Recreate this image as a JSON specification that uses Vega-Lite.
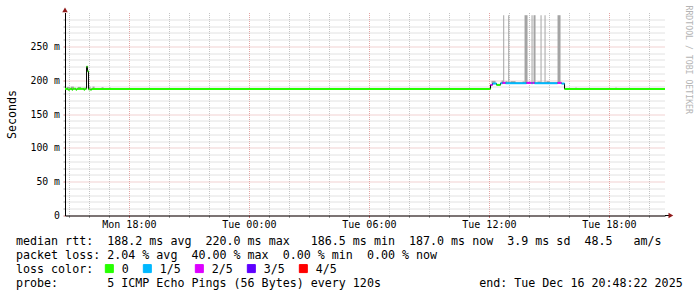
{
  "$schema": "https://vega.github.io/schema/vega-lite/v6.json",
  "width": 600,
  "height": 203,
  "autosize": {"type": "none"},
  "padding": {"left": 65, "top": 12.5, "right": 32, "bottom": 81.5},
  "background": "white",
  "config": {"view": {"stroke": null}, "font": "DejaVu Sans Mono"},
  "title": {
    "text": [
      "median rtt:\u00a0\u00a0188.2 ms avg\u00a0\u00a0220.0 ms max\u00a0\u00a0\u00a0186.5 ms min\u00a0\u00a0187.0 ms now\u00a0\u00a03.9 ms sd\u00a0\u00a048.5\u00a0\u00a0\u00a0am/s",
      "packet loss: 2.04 % avg\u00a0\u00a040.00 % max\u00a0\u00a00.00 % min\u00a0\u00a00.00 % now",
      "\u200b",
      "probe:\u00a0\u00a0\u00a0\u00a0\u00a0\u00a0\u00a05 ICMP Echo Pings (56 Bytes) every 120s\u00a0\u00a0\u00a0\u00a0\u00a0\u00a0\u00a0\u00a0\u00a0\u00a0\u00a0\u00a0\u00a0\u00a0end: Tue Dec 16 20:48:22 2025"
    ],
    "orient": "bottom",
    "anchor": "start",
    "frame": "group",
    "dx": -49,
    "offset": -40,
    "font": "DejaVu Sans Mono",
    "fontSize": 11.67,
    "fontWeight": "normal",
    "color": "black",
    "lineHeight": 14.2,
    "baseline": "top"
  },
  "datasets": {
    "median": [
      {"t0": "2025-12-15T14:48:22Z", "t1": "2025-12-15T14:57:00Z", "med": 187.2, "loss": "0"},
      {"t0": "2025-12-15T14:57:00Z", "t1": "2025-12-15T15:03:00Z", "med": 186.0, "loss": "0"},
      {"t0": "2025-12-15T15:03:00Z", "t1": "2025-12-15T15:09:00Z", "med": 187.2, "loss": "0"},
      {"t0": "2025-12-15T15:09:00Z", "t1": "2025-12-15T15:12:00Z", "med": 186.0, "loss": "0"},
      {"t0": "2025-12-15T15:12:00Z", "t1": "2025-12-15T15:21:00Z", "med": 187.3, "loss": "0"},
      {"t0": "2025-12-15T15:21:00Z", "t1": "2025-12-15T15:24:00Z", "med": 186.0, "loss": "0"},
      {"t0": "2025-12-15T15:24:00Z", "t1": "2025-12-15T15:45:00Z", "med": 187.2, "loss": "0"},
      {"t0": "2025-12-15T15:45:00Z", "t1": "2025-12-15T15:48:00Z", "med": 186.0, "loss": "0"},
      {"t0": "2025-12-15T15:48:00Z", "t1": "2025-12-15T15:53:00Z", "med": 187.2, "loss": "0"},
      {"t0": "2025-12-15T15:53:00Z", "t1": "2025-12-15T15:56:00Z", "med": 220.0, "loss": "0"},
      {"t0": "2025-12-15T15:56:00Z", "t1": "2025-12-15T15:59:00Z", "med": 213.0, "loss": "0"},
      {"t0": "2025-12-15T15:59:00Z", "t1": "2025-12-15T16:05:00Z", "med": 186.5, "loss": "0"},
      {"t0": "2025-12-15T16:05:00Z", "t1": "2025-12-15T16:08:00Z", "med": 186.0, "loss": "0"},
      {"t0": "2025-12-15T16:08:00Z", "t1": "2025-12-16T12:05:00Z", "med": 187.0, "loss": "0"},
      {"t0": "2025-12-16T12:05:00Z", "t1": "2025-12-16T12:11:00Z", "med": 193.0, "loss": "2/5"},
      {"t0": "2025-12-16T12:11:00Z", "t1": "2025-12-16T12:23:00Z", "med": 195.0, "loss": "1/5"},
      {"t0": "2025-12-16T12:23:00Z", "t1": "2025-12-16T12:35:00Z", "med": 193.0, "loss": "0"},
      {"t0": "2025-12-16T12:35:00Z", "t1": "2025-12-16T12:41:00Z", "med": 195.5, "loss": "1/5"},
      {"t0": "2025-12-16T12:41:00Z", "t1": "2025-12-16T12:50:00Z", "med": 196.0, "loss": "2/5"},
      {"t0": "2025-12-16T12:50:00Z", "t1": "2025-12-16T13:53:00Z", "med": 195.5, "loss": "1/5"},
      {"t0": "2025-12-16T13:53:00Z", "t1": "2025-12-16T14:08:00Z", "med": 196.0, "loss": "2/5"},
      {"t0": "2025-12-16T14:08:00Z", "t1": "2025-12-16T14:11:00Z", "med": 195.5, "loss": "1/5"},
      {"t0": "2025-12-16T14:11:00Z", "t1": "2025-12-16T14:17:00Z", "med": 196.0, "loss": "2/5"},
      {"t0": "2025-12-16T14:17:00Z", "t1": "2025-12-16T15:26:00Z", "med": 195.5, "loss": "1/5"},
      {"t0": "2025-12-16T15:26:00Z", "t1": "2025-12-16T15:38:00Z", "med": 196.0, "loss": "2/5"},
      {"t0": "2025-12-16T15:38:00Z", "t1": "2025-12-16T15:47:00Z", "med": 195.0, "loss": "1/5"},
      {"t0": "2025-12-16T15:47:00Z", "t1": "2025-12-16T20:48:22Z", "med": 187.0, "loss": "0"},
      {"t0": "2025-12-16T20:48:22Z", "t1": "2025-12-16T20:48:22Z", "med": 187.0, "loss": "0"}
    ],
    "smoke": [
      {"t0": "2025-12-15T14:54:00Z", "t1": "2025-12-15T15:03:00Z", "lo": 187.5, "hi": 190.0},
      {"t0": "2025-12-15T15:06:00Z", "t1": "2025-12-15T15:15:00Z", "lo": 187.5, "hi": 190.5},
      {"t0": "2025-12-15T15:27:00Z", "t1": "2025-12-15T15:36:00Z", "lo": 187.5, "hi": 190.0},
      {"t0": "2025-12-15T15:45:00Z", "t1": "2025-12-15T15:51:00Z", "lo": 187.5, "hi": 189.0},
      {"t0": "2025-12-15T15:59:00Z", "t1": "2025-12-15T16:05:00Z", "lo": 187.5, "hi": 190.5},
      {"t0": "2025-12-15T16:11:00Z", "t1": "2025-12-15T16:17:00Z", "lo": 187.5, "hi": 190.5},
      {"t0": "2025-12-15T16:38:00Z", "t1": "2025-12-15T16:44:00Z", "lo": 187.5, "hi": 189.5},
      {"t0": "2025-12-15T17:02:00Z", "t1": "2025-12-15T17:05:00Z", "lo": 187.5, "hi": 189.0},
      {"t0": "2025-12-16T12:08:00Z", "t1": "2025-12-16T12:20:00Z", "lo": 195.0, "hi": 199.0},
      {"t0": "2025-12-16T12:38:00Z", "t1": "2025-12-16T12:44:00Z", "lo": 196.0, "hi": 199.5},
      {"t0": "2025-12-16T12:50:00Z", "t1": "2025-12-16T12:56:00Z", "lo": 196.0, "hi": 198.5},
      {"t0": "2025-12-16T13:05:00Z", "t1": "2025-12-16T13:20:00Z", "lo": 196.0, "hi": 198.5},
      {"t0": "2025-12-16T13:41:00Z", "t1": "2025-12-16T13:47:00Z", "lo": 196.0, "hi": 198.0},
      {"t0": "2025-12-16T14:26:00Z", "t1": "2025-12-16T14:35:00Z", "lo": 196.0, "hi": 198.0},
      {"t0": "2025-12-16T14:53:00Z", "t1": "2025-12-16T15:02:00Z", "lo": 196.0, "hi": 198.5},
      {"t0": "2025-12-16T12:43:00Z", "t1": "2025-12-16T12:46:00Z", "lo": 196.0, "hi": 296.0},
      {"t0": "2025-12-16T12:58:00Z", "t1": "2025-12-16T13:01:00Z", "lo": 196.0, "hi": 296.0},
      {"t0": "2025-12-16T13:47:00Z", "t1": "2025-12-16T13:56:00Z", "lo": 196.0, "hi": 296.0},
      {"t0": "2025-12-16T14:08:00Z", "t1": "2025-12-16T14:11:00Z", "lo": 196.0, "hi": 296.0},
      {"t0": "2025-12-16T14:14:00Z", "t1": "2025-12-16T14:20:00Z", "lo": 196.0, "hi": 296.0},
      {"t0": "2025-12-16T14:35:00Z", "t1": "2025-12-16T14:38:00Z", "lo": 196.0, "hi": 296.0},
      {"t0": "2025-12-16T14:47:00Z", "t1": "2025-12-16T14:50:00Z", "lo": 196.0, "hi": 296.0},
      {"t0": "2025-12-16T15:26:00Z", "t1": "2025-12-16T15:35:00Z", "lo": 196.0, "hi": 296.0},
      {"t0": "2025-12-16T16:20:00Z", "t1": "2025-12-16T16:23:00Z", "lo": 187.5, "hi": 189.0},
      {"t0": "2025-12-16T18:20:00Z", "t1": "2025-12-16T18:23:00Z", "lo": 187.5, "hi": 189.0}
    ]
  },
  "layer": [
    {
      "layer": [
        {
          "data": {"name": "smoke"},
          "mark": {"type": "rect", "color": "#a4a4a4"},
          "encoding": {
            "x": {
              "field": "t0", "type": "temporal",
              "scale": {"type": "utc", "domain": [1765810102000, 1765918102000]},
              "axis": {
                "title": null,
                "values": [1765810800000, 1765814400000, 1765818000000, 1765821600000, 1765825200000, 1765828800000, 1765832400000, 1765836000000, 1765839600000, 1765843200000, 1765846800000, 1765850400000, 1765854000000, 1765857600000, 1765861200000, 1765864800000, 1765868400000, 1765872000000, 1765875600000, 1765879200000, 1765882800000, 1765886400000, 1765890000000, 1765893600000, 1765897200000, 1765900800000, 1765904400000, 1765908000000, 1765911600000, 1765915200000],
                "tickCount": 1000,
                "grid": true,
                "gridColor": {"condition": {"test": "utchours(datum.value) % 6 === 0", "value": "#e3a3a3"}, "value": "#c4c4c4"},
                "gridDash": [1, 1],
                "gridWidth": 1,
                "domainColor": "black",
                "domainWidth": 1,
                "tickSize": 2,
                "tickColor": {"condition": {"test": "utchours(datum.value) % 6 === 0", "value": "#d08080"}, "value": "#a0a0a0"},
                "labelExpr": "utchours(datum.value) % 6 === 0 ? utcFormat(datum.value, '%a %H:%M') : ''",
                "labelFont": "DejaVu Sans Mono",
                "labelFontSize": 10,
                "labelColor": "black",
                "labelBaseline": "alphabetic",
                "labelPadding": 10,
                "labelOverlap": false,
                "labelFlush": false,
                "labelBound": false
              }
            },
            "x2": {"field": "t1"},
            "y": {
              "field": "lo", "type": "quantitative",
              "scale": {"domain": [0, 300], "nice": false, "zero": true},
              "axis": {
                "values": [0, 10, 20, 30, 40, 50, 60, 70, 80, 90, 100, 110, 120, 130, 140, 150, 160, 170, 180, 190, 200, 210, 220, 230, 240, 250, 260, 270, 280, 290],
                "tickCount": 1000,
                "title": "Seconds",
                "titleX": -54,
                "titleY": 101.5,
                "titleAngle": -90,
                "titleAlign": "center",
                "titleBaseline": "middle",
                "titleFont": "DejaVu Sans Mono",
                "titleFontSize": 11.67,
                "titleFontWeight": "normal",
                "titleColor": "black",
                "grid": true,
                "gridColor": {"condition": {"test": "datum.value % 50 === 0", "value": "#e3a3a3"}, "value": "#c4c4c4"},
                "gridDash": [1, 1],
                "gridWidth": 1,
                "domainColor": "black",
                "domainWidth": 1,
                "tickSize": 2,
                "tickColor": {"condition": {"test": "datum.value % 50 === 0", "value": "#d08080"}, "value": "#a0a0a0"},
                "labelExpr": "datum.value % 50 === 0 ? (datum.value === 0 ? '0' : datum.value + ' m') : ''",
                "labelFont": "DejaVu Sans Mono",
                "labelFontSize": 9.8,
                "labelColor": "black",
                "labelPadding": 3.5,
                "labelOverlap": false,
                "labelFlush": false,
                "labelBound": false
              }
            },
            "y2": {"field": "hi"}
          }
        },
        {
          "data": {"name": "median"},
          "mark": {"type": "line", "interpolate": "step-after", "color": "black", "strokeWidth": 1},
          "encoding": {
            "x": {"field": "t0", "type": "temporal"},
            "y": {"field": "med", "type": "quantitative"}
          }
        },
        {
          "data": {"name": "median"},
          "mark": {"type": "rule", "strokeWidth": 2},
          "encoding": {
            "x": {"field": "t0", "type": "temporal"},
            "x2": {"field": "t1"},
            "y": {"field": "med", "type": "quantitative"},
            "color": {
              "field": "loss", "type": "nominal",
              "scale": {"domain": ["0", "1/5", "2/5", "3/5", "4/5"], "range": ["#26ff00", "#00b8ff", "#dd00ff", "#5e00ff", "#ff0000"]},
              "legend": {
                "title": "loss color:",
                "orient": "none",
                "legendX": -49,
                "legendY": 250,
                "direction": "horizontal",
                "titleOrient": "left",
                "titlePadding": 9.5,
                "titleFont": "DejaVu Sans Mono",
                "titleFontSize": 11.67,
                "titleFontWeight": "normal",
                "titleColor": "black",
                "labelFont": "DejaVu Sans Mono",
                "labelFontSize": 11.67,
                "labelColor": "black",
                "labelOffset": 6.5,
                "columnPadding": 11,
                "gridAlign": "each",
                "symbolType": "square",
                "symbolSize": 64,
                "symbolStrokeWidth": 1,
                "encode": {
                  "symbols": {
                    "update": {
                      "fill": {"scale": "color", "field": "value"},
                      "fillOpacity": {"value": 1},
                      "stroke": {"value": "black"},
                      "strokeWidth": {"value": 1},
                      "opacity": {"value": 1}
                    }
                  }
                }
              }
            }
          }
        },
        {
          "data": {"values": [{"part": "x-axis end"}]},
          "mark": {"type": "rule", "color": "black", "strokeWidth": 1},
          "encoding": {
            "x": {"datum": {"year": 2025, "month": 12, "date": 16, "hours": 20, "minutes": 48, "seconds": 22, "utc": true}, "type": "temporal"},
            "x2": {"datum": {"year": 2025, "month": 12, "date": 16, "hours": 21, "minutes": 3, "utc": true}},
            "y": {"datum": 0, "type": "quantitative"}
          }
        },
        {
          "data": {"values": [{"part": "x-axis arrow"}]},
          "mark": {"type": "point", "shape": "triangle-right", "filled": true, "color": "#8f1a1a", "size": 30, "opacity": 1},
          "encoding": {
            "x": {"datum": {"year": 2025, "month": 12, "date": 16, "hours": 21, "minutes": 6, "utc": true}, "type": "temporal"},
            "y": {"datum": 0, "type": "quantitative"}
          }
        }
      ]
    },
    {
      "data": {"values": [{"part": "y-axis arrow"}]},
      "mark": {"type": "point", "shape": "triangle-up", "filled": true, "color": "#8f1a1a", "size": 30, "opacity": 1},
      "encoding": {
        "x": {"datum": {"year": 2025, "month": 12, "date": 15, "hours": 14, "minutes": 48, "seconds": 22, "utc": true}, "type": "temporal"},
        "y": {
          "datum": 304, "type": "quantitative",
          "scale": {"domain": [0, 300], "nice": false},
          "axis": {
            "orient": "right",
            "domain": false,
            "ticks": false,
            "labels": false,
            "grid": false,
            "title": "RRDTOOL / TOBI OETIKER",
            "titleX": 22,
            "titleY": -7.5,
            "titleAngle": 90,
            "titleAlign": "left",
            "titleBaseline": "middle",
            "titleFont": "DejaVu Sans Mono",
            "titleFontSize": 8.2,
            "titleFontWeight": "normal",
            "titleColor": "#b4b4b4"
          }
        }
      }
    }
  ],
  "resolve": {"scale": {"y": "independent"}, "axis": {"y": "independent"}}
}
